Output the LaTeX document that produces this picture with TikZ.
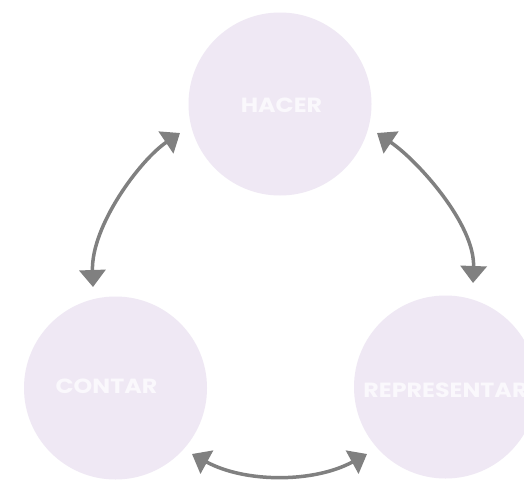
\documentclass[tikz,border=0pt]{standalone}
\usepackage{fontspec}
\setmainfont{Poppins}
\usetikzlibrary{arrows.meta}
\definecolor{circfill}{HTML}{EFE8F4}
\definecolor{txtcol}{HTML}{FAF8FC}
\definecolor{arrcol}{HTML}{808080}
\newcommand{\widetxt}[1]{\scalebox{1.16}[1]{#1}}
\begin{document}
\begin{tikzpicture}[x=1pt,y=-1pt,
  bubble/.style={circle,fill=circfill,minimum size=183pt,inner sep=0pt},
  lbl/.style={text=txtcol,font=\fontsize{20.5}{22}\selectfont\bfseries,inner sep=0pt,anchor=center},
  link/.style={draw=arrcol,line width=3.5pt,{Triangle[length=17pt,width=26pt]}-{Triangle[length=17pt,width=26pt]}}]
\useasboundingbox (0,0) rectangle (524,479);
\clip (0,0) rectangle (524,479);
\fill[white] (0,0) rectangle (524,479);
\node[bubble] (hacer) at (280,104) {};
\node[bubble] (contar) at (115.5,388) {};
\node[bubble] (repr) at (445.5,387) {};
\node[lbl] (thacer) at (281.5,105) {\widetxt{HACER}};
\node[lbl] (tcontar) at (106.5,386.5) {\widetxt{CONTAR}};
\node[lbl] (trepr) at (445.5,390.5) {\widetxt{REPRESENTAR}};
\coordinate (l1) at (180,133);
\coordinate (l2) at (93,287);
\coordinate (r1) at (377,133);
\coordinate (r2) at (473,283);
\coordinate (b1) at (192,454);
\coordinate (b2) at (367,454);
\draw[link] (l1) .. controls (140,160) and (91,226) .. (l2);
\draw[link] (r1) .. controls (417,160) and (475,224) .. (r2);
\draw[link] (b1) .. controls (245,483) and (314,483) .. (b2);
\end{tikzpicture}
\end{document}
